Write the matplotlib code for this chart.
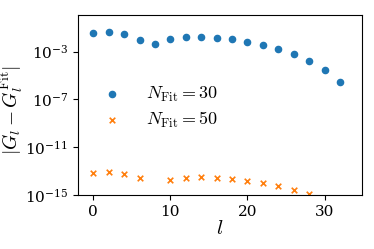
import numpy as np
import matplotlib
matplotlib.use("Agg")
import matplotlib.pyplot as plt
from matplotlib.ticker import NullLocator

plt.rcParams["mathtext.fontset"] = "cm"
plt.rcParams["font.family"] = "serif"
plt.rcParams["font.serif"] = ["DejaVu Serif"]

# l 值與兩組誤差 (log10)
l_30 = [0, 2, 4, 6, 8, 10, 12, 14, 16, 18, 20, 22, 24, 26, 28, 30, 32]
log_err_30 = [-1.41, -1.33, -1.55, -2.02, -2.36, -1.91, -1.77, -1.77, -1.86,
              -1.97, -2.17, -2.42, -2.78, -3.20, -3.78, -4.53, -5.57]
l_50 = [0, 2, 4, 6, 10, 12, 14, 16, 18, 20, 22, 24, 26, 28]
log_err_50 = [-13.19, -13.10, -13.24, -13.60, -13.74, -13.55, -13.52, -13.58,
              -13.66, -13.80, -14.00, -14.22, -14.56, -14.92]

err_30 = 10.0 ** np.array(log_err_30)
err_50 = 10.0 ** np.array(log_err_50)

fig, ax = plt.subplots(figsize=(3.74, 2.49), dpi=100)
fig.subplots_adjust(left=0.208, right=0.967, top=0.94, bottom=0.217)

ax.scatter(l_30, err_30, s=20, color="#1f77b4", marker="o",
           label=r"$N_{\rm Fit}=30$")
ax.scatter(l_50, err_50, s=16, color="#ff7f0e", marker="x", linewidths=1.2,
           label=r"$N_{\rm Fit}=50$")

ax.set_yscale("log")
ax.set_ylim(1e-15, 10 ** 0.07)
ax.set_xlim(-2, 34.8)
ax.set_yticks([1e-15, 1e-11, 1e-7, 1e-3])
ax.yaxis.set_minor_locator(NullLocator())
ax.set_xticks([0, 10, 20, 30])

ax.tick_params(labelsize=11)
ax.set_xlabel(r"$l$", fontsize=15, labelpad=0)
ax.set_ylabel(r"$|G_l - G_l^{\rm Fit}|$", fontsize=14)
ax.yaxis.set_label_coords(-0.185, 0.47)

ax.legend(loc="center left", bbox_to_anchor=(0.0, 0.487), frameon=False,
          fontsize=13, handletextpad=0.9, labelspacing=0.35)

fig.savefig("out.png")
